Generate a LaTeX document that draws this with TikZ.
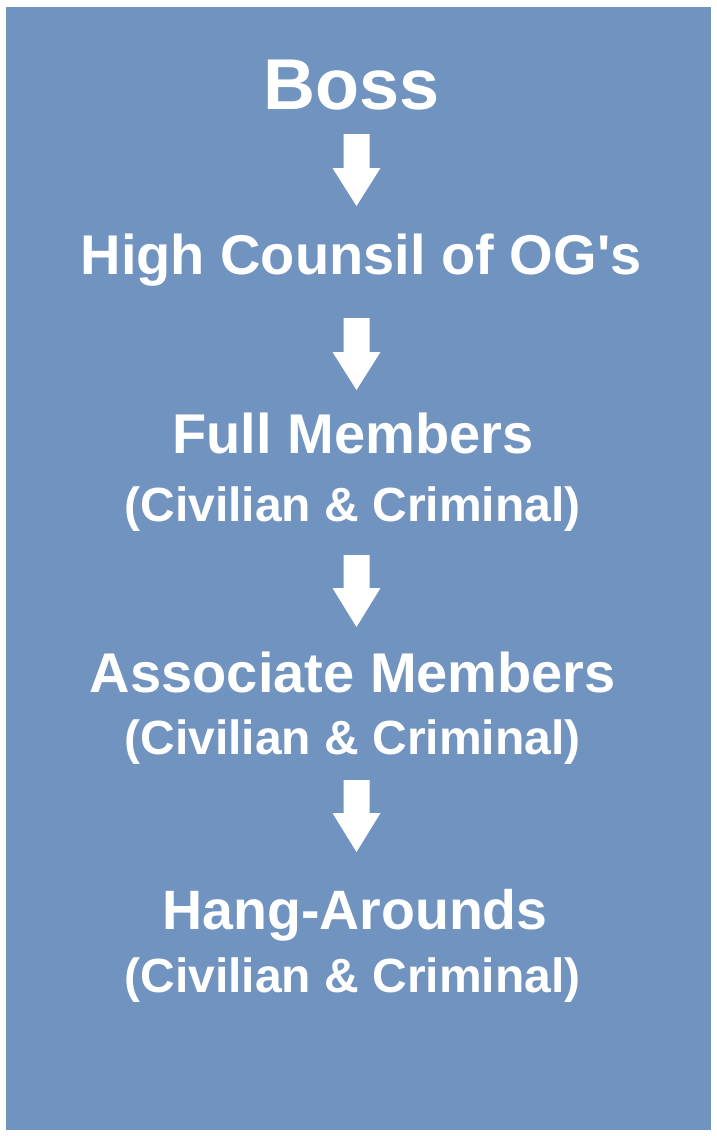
\documentclass[tikz,border=0pt]{standalone}
\usepackage{fontspec}
\setmainfont{Liberation Sans}[Ligatures=TeXOff]
\definecolor{panelblue}{RGB}{112,147,192}
\tikzset{
  lbl/.style={text=white, font=\bfseries\fontsize{#1}{#1}\selectfont, anchor=base, inner sep=0pt},
  blockarrow/.style={fill=white}
}
\begin{document}
\begin{tikzpicture}[x=1pt,y=-1pt]
\useasboundingbox (0,0) rectangle (716,1136);
\fill[white] (0,0) rectangle (716,1136);
\fill[panelblue] (6,7) rectangle (711,1130);
% labels
\node[lbl=72] (boss) at (352,109) {Boss};
\node[lbl=56] (high) at (361,274) {High Counsil of OG's};
\node[lbl=56] (full) at (353,453) {Full Members};
\node[lbl=48] (fullsub) at (352.5,521) {(Civilian \& Criminal)};
\node[lbl=56] (assoc) at (353,692) {Associate Members};
\node[lbl=48] (assocsub) at (352.5,754) {(Civilian \& Criminal)};
\node[lbl=55.5] (hang) at (355,929) {Hang-Arounds};
\node[lbl=48] (hangsub) at (352.5,992) {(Civilian \& Criminal)};
% block arrows
\foreach \t/\h/\b in {134/168/206, 318/352/390, 555/588/627, 780/813/852}{
  \fill[blockarrow] (343.5,\t) -- (369.5,\t) -- (369.5,\h) -- (380.5,\h) -- (356.5,\b)
     -- (332.5,\h) -- (343.5,\h) -- cycle;
}
\end{tikzpicture}
\end{document}
